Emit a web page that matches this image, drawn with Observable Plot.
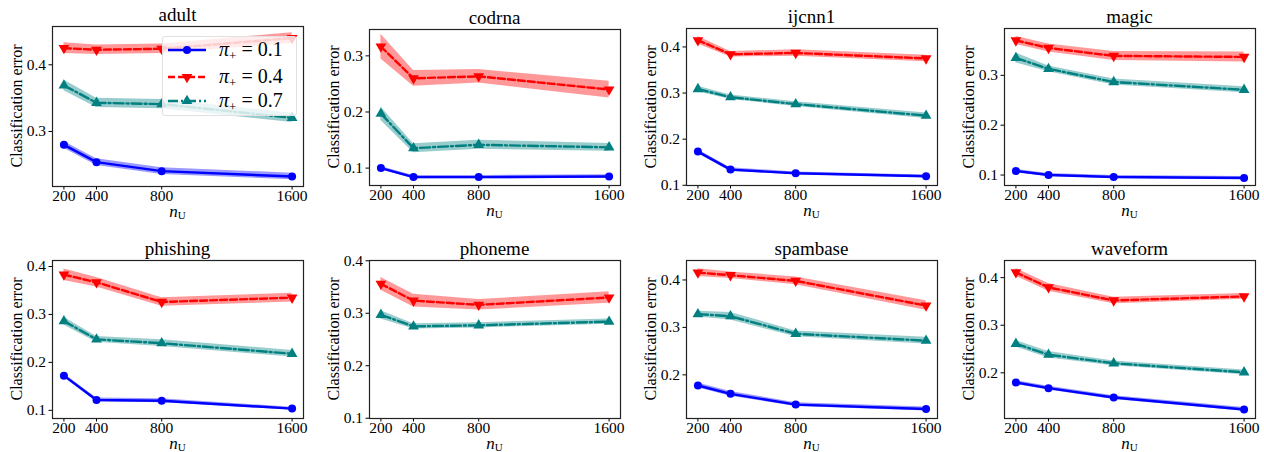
<!DOCTYPE html>
<html>
<head>
<meta charset="utf-8">
<script src="https://cdn.jsdelivr.net/npm/d3@7"></script>
<script src="https://cdn.jsdelivr.net/npm/@observablehq/plot@0.6"></script>
<style>
  html, body { margin: 0; padding: 0; background: #fff; }
  #root { position: relative; width: 1264px; height: 452px; overflow: hidden; font-family: "Liberation Serif", "DejaVu Serif", serif; color: #000; }
  #root svg, #root svg text { font-family: "Liberation Serif", "DejaVu Serif", serif !important; }
  .abs { position: absolute; }
  .title { font-size: 19px; text-align: center; line-height: 20px; }
  .ylab { font-size: 16px; white-space: nowrap; transform: translate(-50%, -50%) rotate(-90deg); line-height: 16px; }
  .xlab { font-size: 17px; white-space: nowrap; transform: translate(-50%, 0); line-height: 12px; }
  .xlab sub { font-size: 11px; font-style: normal; vertical-align: -2px; line-height: 0; }
  .legend { background: rgba(255,255,255,0.8); border: 1px solid #e0e0e0; border-radius: 3px; box-sizing: border-box; }
  .legrow { position: absolute; left: 56px; font-size: 20px; white-space: nowrap; line-height: 20px; }
  .legrow sub { font-size: 13px; vertical-align: -4px; font-style: normal; line-height: 0; }
</style>
</head>
<body>
<div id="root"></div>
<script>
// ---------------- data ----------------
const datasets = ["adult", "codrna", "ijcnn1", "magic", "phishing", "phoneme", "spambase", "waveform"];
const nU = [200, 400, 800, 1600];
const piValues = [0.1, 0.4, 0.7];
const xTicks = [200, 400, 800, 1600];
const yTicks = [0.1, 0.2, 0.3, 0.4];

// mean classification error, pi+ = 0.1 (one row per dataset, columns = nU)
const mean01 = [
  [0.280, 0.254, 0.2405, 0.2325],
  [0.100, 0.084, 0.084, 0.085],
  [0.173, 0.134, 0.126, 0.1195],
  [0.108, 0.100, 0.096, 0.094],
  [0.1724, 0.1217, 0.120, 0.1036],
  null,
  [0.1776, 0.160, 0.1373, 0.128],
  [0.1797, 0.1677, 0.148, 0.123]
];
const std01 = [
  [0.005, 0.005, 0.005, 0.005],
  [0.003, 0.003, 0.003, 0.003],
  [0.004, 0.004, 0.003, 0.003],
  [0.003, 0.003, 0.003, 0.003],
  [0.004, 0.004, 0.004, 0.003],
  null,
  [0.005, 0.005, 0.004, 0.004],
  [0.004, 0.004, 0.004, 0.004]
];
// pi+ = 0.4
const mean04 = [
  [0.425, 0.4225, 0.424, 0.440],
  [0.3165, 0.260, 0.2635, 0.240],
  [0.4145, 0.384, 0.387, 0.375],
  [0.370, 0.355, 0.339, 0.337],
  [0.383, 0.367, 0.326, 0.335],
  [0.356, 0.324, 0.316, 0.330],
  [0.4155, 0.410, 0.398, 0.346],
  [0.411, 0.3795, 0.352, 0.3605]
];
const std04 = [
  [0.008, 0.007, 0.007, 0.008],
  [0.022, 0.014, 0.012, 0.015],
  [0.008, 0.006, 0.007, 0.007],
  [0.008, 0.008, 0.009, 0.010],
  [0.012, 0.010, 0.009, 0.009],
  [0.012, 0.012, 0.010, 0.011],
  [0.008, 0.007, 0.008, 0.010],
  [0.008, 0.008, 0.007, 0.006]
];
// pi+ = 0.7
const mean07 = [
  [0.369, 0.343, 0.341, 0.3205],
  [0.197, 0.1355, 0.1415, 0.137],
  [0.3086, 0.291, 0.276, 0.251],
  [0.335, 0.313, 0.2866, 0.271],
  [0.286, 0.248, 0.240, 0.218],
  [0.297, 0.275, 0.277, 0.284],
  [0.328, 0.3235, 0.2865, 0.272],
  [0.261, 0.238, 0.220, 0.201]
];
const std07 = [
  [0.008, 0.007, 0.007, 0.007],
  [0.012, 0.008, 0.008, 0.007],
  [0.006, 0.005, 0.005, 0.006],
  [0.010, 0.006, 0.006, 0.006],
  [0.008, 0.006, 0.007, 0.007],
  [0.008, 0.005, 0.005, 0.005],
  [0.006, 0.008, 0.006, 0.007],
  [0.007, 0.007, 0.005, 0.005]
];

// ---------------- layout / style config ----------------
const yDomains = [
  [0.2175, 0.4574], [0.069, 0.347], [0.0995, 0.440], [0.079, 0.394],
  [0.083, 0.4125], [0.0995, 0.4005], [0.108, 0.441], [0.104, 0.436]
];
const frameLefts = [52, 369, 686, 1004];
const frameW = 251;
const frameTops = [26, 29, 28, 28, 260, 260, 260, 260];
const frameBottoms = [186, 185, 185, 185, 418, 418, 418, 418];

const seriesStyle = [
  {color: "#0000ff", dash: null, symbol: "circle", rotate: 0, r: 4},
  {color: "#ff0000", dash: "7,3", symbol: "triangle", rotate: 180, r: 4},
  {color: "#008080", dash: "10,3,2,3", symbol: "triangle", rotate: 0, r: 4}
];
const means = [mean01, mean04, mean07];
const stds = [std01, std04, std07];

const root = document.getElementById("root");
const mL = 60, mR = 12, mT = 6, mB = 30;

datasets.forEach((name, i) => {
  const col = i % 4;
  const fl = frameLefts[col], ft = frameTops[i], fb = frameBottoms[i];
  const fh = fb - ft;
  const dom = yDomains[i];
  const rows = [];
  piValues.forEach((pi, k) => {
    const m = means[k][i], s = stds[k][i];
    if (!m) return;
    nU.forEach((n, j) => rows.push({n, pi, k, v: m[j], lo: m[j] - s[j], hi: m[j] + s[j]}));
  });
  const marks = [];
  piValues.forEach((pi, k) => {
    const d = rows.filter(r => r.k === k);
    if (!d.length) return;
    const st = seriesStyle[k];
    marks.push(Plot.areaY(d, {x: "n", y1: "lo", y2: "hi", fill: st.color, fillOpacity: 0.4}));
    marks.push(Plot.line(d, {x: "n", y: "v", stroke: st.color, strokeWidth: 2.4, strokeDasharray: st.dash}));
    marks.push(Plot.dot(d, {x: "n", y: "v", fill: st.color, symbol: st.symbol, r: st.r, rotate: st.rotate}));
  });
  marks.push(Plot.frame({stroke: "#222", strokeWidth: 1.2}));
  const ticks = yTicks.filter(t => t >= dom[0] - 1e-9 && t <= dom[1] + 1e-9);
  const chart = Plot.plot({
    width: frameW + mL + mR,
    height: fh + mT + mB,
    marginLeft: mL, marginRight: mR, marginTop: mT, marginBottom: mB,
    style: {fontFamily: "'Liberation Serif', 'DejaVu Serif', serif", fontSize: "15.5px", color: "#000", background: "transparent", overflow: "visible"},
    x: {type: "linear", domain: [130, 1670], ticks: xTicks, tickFormat: d => String(d), tickSize: 3.5, tickPadding: 0, label: null},
    y: {domain: dom, ticks, tickFormat: d3.format(".1f"), tickSize: 3.5, tickPadding: 3, label: null},
    marks
  });
  chart.classList.add("abs");
  chart.style.left = (fl - mL) + "px";
  chart.style.top = (ft - mT) + "px";
  root.appendChild(chart);

  const t = document.createElement("div");
  t.className = "abs title";
  t.style.left = fl + "px"; t.style.width = frameW + "px";
  t.style.top = (ft - 21) + "px";
  t.textContent = name;
  root.appendChild(t);

  const yl = document.createElement("div");
  yl.className = "abs ylab";
  yl.style.left = (fl - 35) + "px";
  yl.style.top = ((ft + fb) / 2) + "px";
  yl.textContent = "Classification error";
  root.appendChild(yl);

  const xl = document.createElement("div");
  xl.className = "abs xlab";
  xl.style.left = (fl + frameW / 2) + "px";
  xl.style.top = (fb + 20) + "px";
  xl.innerHTML = "<i>n</i><sub>U</sub>";
  root.appendChild(xl);
});

// legend (adult panel)
const leg = document.createElement("div");
leg.className = "abs legend";
leg.style.left = "162px"; leg.style.top = "36px"; leg.style.width = "135px"; leg.style.height = "80px";
root.appendChild(leg);
const legY = [13, 40, 64];
const svg = d3.select(leg).append("svg").attr("width", 135).attr("height", 80)
  .style("position", "absolute").style("left", 0).style("top", 0);
piValues.forEach((pi, k) => {
  const st = seriesStyle[k];
  const y = legY[k];
  svg.append("line").attr("x1", 5).attr("x2", 43).attr("y1", y).attr("y2", y)
    .attr("stroke", st.color).attr("stroke-width", 2.4).attr("stroke-dasharray", st.dash);
  svg.append("path").attr("d", d3.symbol(st.symbol === "circle" ? d3.symbolCircle : d3.symbolTriangle, Math.PI * st.r * st.r)())
    .attr("transform", `translate(24,${y}) rotate(${st.rotate})`).attr("fill", st.color);
  const lr = document.createElement("div");
  lr.className = "legrow";
  lr.style.top = (y - 11) + "px";
  lr.innerHTML = `<i>π</i><sub>+</sub> = ${pi}`;
  leg.appendChild(lr);
});
</script>
</body>
</html>
